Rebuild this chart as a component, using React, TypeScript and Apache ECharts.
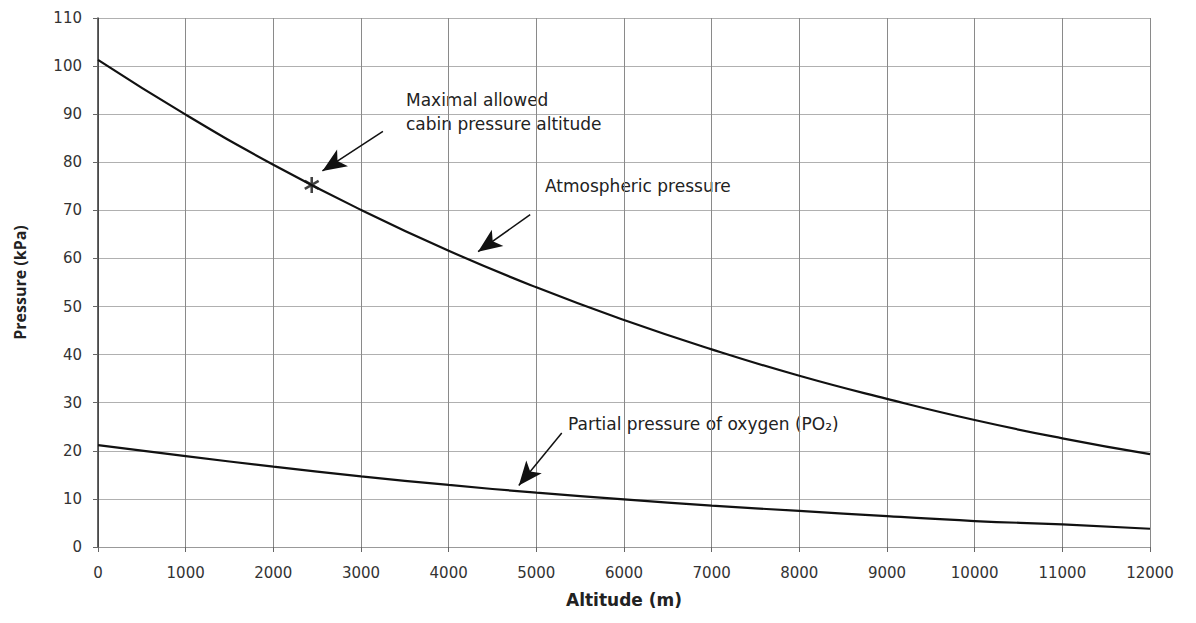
import React, { useEffect, useRef } from "react";
import * as echarts from "echarts";

const altitudes = [0, 1000, 2000, 3000, 4000, 5000, 6000, 7000, 8000, 9000, 10000, 11000, 12000];
const atmosphericPressure = [101.3, 89.9, 79.5, 70.1, 61.6, 54.0, 47.2, 41.1, 35.6, 30.8, 26.4, 22.6, 19.3];
const oxygenPressure = [21.2, 18.9, 16.7, 14.7, 12.9, 11.3, 9.9, 8.6, 7.5, 6.4, 5.4, 4.7, 3.8];
const cabinPoint = [2438, 75.3];

// annotation arrows: [from, to] in data coordinates
const arrowCabin = [[3250, 86.4], [2560, 78.2]];
const arrowAtm = [[4930, 69.1], [4335, 61.4]];
const arrowO2 = [[5290, 23.7], [4800, 12.8]];

const asteriskPath =
  "path://M-1.6,-10L1.6,-10L1.6,10L-1.6,10Z" +
  "M9.46,3.614L7.86,6.386L-9.46,-3.614L-7.86,-6.386Z" +
  "M-7.86,6.386L-9.46,3.614L7.86,-6.386L9.46,-3.614Z";

const FONT = "'DejaVu Sans', Arial, sans-serif";

export default function App() {
  const ref = useRef<HTMLDivElement>(null);
  useEffect(() => {
    if (!ref.current) return;
    const chart = echarts.init(ref.current, undefined, { renderer: "svg" });
    const arrowLine = (pair: number[][]) => [
      { coord: pair[0], symbol: "none" },
      { coord: pair[1], symbol: "arrow" },
    ];
    chart.setOption({
      animation: false,
      backgroundColor: "#fff",
      grid: { left: 98, right: 46, top: 18, bottom: 76 },
      xAxis: {
        type: "value",
        min: 0,
        max: 12000,
        interval: 1000,
        name: "Altitude (m)",
        nameLocation: "middle",
        nameGap: 44,
        nameTextStyle: { fontFamily: FONT, fontWeight: "bold", fontSize: 17, color: "#222" },
        axisLine: { show: true, lineStyle: { color: "#999", width: 1 } },
        axisTick: { show: true, length: 5, lineStyle: { color: "#666" } },
        axisLabel: {
          margin: 18,
          fontFamily: FONT,
          fontSize: 15,
          color: "#333",
          formatter: (v: number) => String(v),
        },
        splitLine: { show: true, lineStyle: { color: "#8a8a8a", width: 1 } },
      },
      yAxis: {
        type: "value",
        min: 0,
        max: 110,
        interval: 10,
        name: "Pressure (kPa)",
        nameLocation: "middle",
        nameGap: 70,
        nameTextStyle: { fontFamily: "'Open Sans', sans-serif", fontWeight: "bold", fontSize: 16, color: "#222" },
        axisLine: { show: true, lineStyle: { color: "#333", width: 1.5 } },
        axisTick: { show: true, length: 5, lineStyle: { color: "#666" } },
        axisLabel: { margin: 16, fontFamily: FONT, fontSize: 15, color: "#333" },
        splitLine: { show: true, lineStyle: { color: "#b0b0b0", width: 1 } },
      },
      series: [
        {
          name: "Atmospheric pressure",
          type: "line",
          data: altitudes.map((a, i) => [a, atmosphericPressure[i]]),
          smooth: true,
          symbol: "none",
          lineStyle: { color: "#111", width: 2.2 },
          markLine: {
            silent: true,
            symbolSize: [15, 24],
            lineStyle: { color: "#111", width: 1.5, type: "solid" },
            itemStyle: { color: "#111" },
            label: { show: false },
            data: [arrowLine(arrowCabin), arrowLine(arrowAtm), arrowLine(arrowO2)],
          },
        },
        {
          name: "Partial pressure of oxygen",
          type: "line",
          data: altitudes.map((a, i) => [a, oxygenPressure[i]]),
          smooth: true,
          symbol: "none",
          lineStyle: { color: "#111", width: 2.2 },
        },
        {
          name: "Maximal allowed cabin pressure altitude",
          type: "scatter",
          data: [cabinPoint],
          symbol: asteriskPath,
          symbolSize: 16,
          symbolKeepAspect: true,
          itemStyle: { color: "#111" },
          z: 5,
        },
      ],
      graphic: [
        {
          type: "text",
          left: 406,
          top: 88,
          style: {
            text: "Maximal allowed\ncabin pressure altitude",
            font: `17px ${FONT}`,
            fill: "#222",
            lineHeight: 24,
          },
        },
        {
          type: "text",
          left: 545,
          top: 177,
          style: { text: "Atmospheric pressure", font: `17px ${FONT}`, fill: "#222" },
        },
        {
          type: "text",
          left: 568,
          top: 415,
          style: { text: "Partial pressure of oxygen (PO₂)", font: `17px ${FONT}`, fill: "#222" },
        },
      ],
    });
    return () => chart.dispose();
  }, []);
  return <div ref={ref} style={{ width: 1196, height: 623, position: "absolute", left: 0, top: 0 }} />;
}
